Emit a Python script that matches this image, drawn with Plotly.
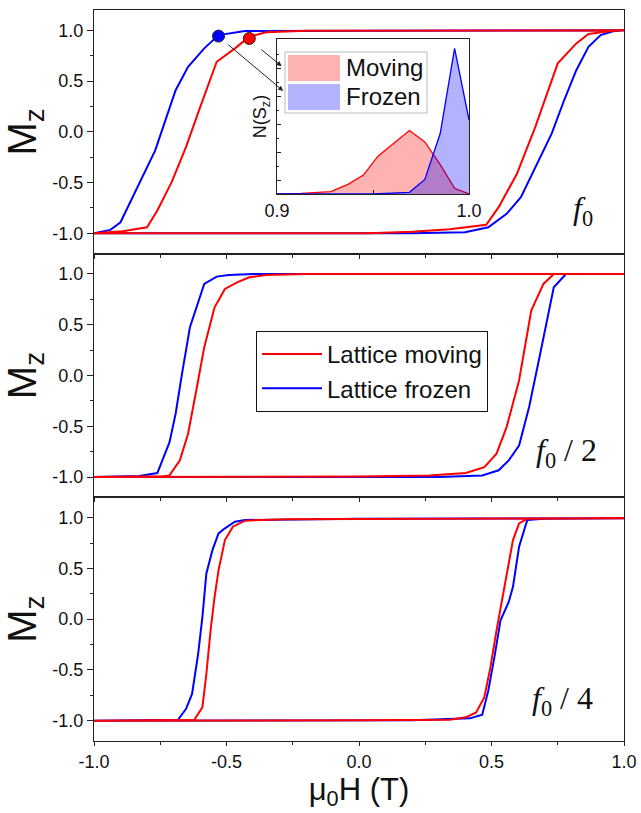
import plotly.graph_objects as go

# ---------------- data ----------------
# panel 1 (f0)
p1_red_up_H = [-1.0, -0.892, -0.80, -0.761, -0.707, -0.653, -0.599, -0.537, -0.468, -0.414, -0.352, -0.198, 1.0]
p1_red_up_M = [-1.0, -0.980, -0.940, -0.775, -0.496, -0.150, 0.245, 0.690, 0.822, 0.937, 0.980, 0.995, 1.0]
p1_red_lo_H = [-1.0, 0.033, 0.20, 0.342, 0.480, 0.527, 0.596, 0.665, 0.750, 0.820, 0.866, 0.943, 1.0]
p1_red_lo_M = [-1.0, -1.0, -0.985, -0.960, -0.915, -0.742, -0.413, 0.047, 0.674, 0.871, 0.963, 0.990, 1.0]
p1_blue_up_H = [-1.0, -0.938, -0.900, -0.861, -0.823, -0.769, -0.692, -0.645, -0.584, -0.530, -0.43, -0.30, 1.0]
p1_blue_up_M = [-1.0, -0.966, -0.891, -0.693, -0.479, -0.183, 0.410, 0.640, 0.822, 0.953, 0.993, 1.0, 1.0]
p1_blue_lo_H = [-1.0, 0.20, 0.40, 0.488, 0.557, 0.611, 0.665, 0.727, 0.774, 0.820, 0.866, 0.912, 0.958, 1.0]
p1_blue_lo_M = [-1.0, -1.0, -0.99, -0.94, -0.808, -0.644, -0.348, -0.018, 0.311, 0.607, 0.838, 0.953, 0.990, 1.0]

# panel 2 (f0/2)
p2_red_up_H = [-1.0, -0.738, -0.715, -0.676, -0.645, -0.614, -0.584, -0.545, -0.506, -0.460, -0.414, -0.352, -0.198, 1.0]
p2_red_up_M = [-1.0, -0.993, -0.984, -0.836, -0.574, -0.148, 0.279, 0.672, 0.852, 0.918, 0.967, 0.990, 1.0, 1.0]
p2_red_lo_H = [-1.0, 0.0, 0.265, 0.403, 0.473, 0.519, 0.557, 0.604, 0.650, 0.696, 0.735, 1.0]
p2_red_lo_M = [-1.0, -0.995, -0.984, -0.961, -0.902, -0.770, -0.508, -0.049, 0.639, 0.902, 1.0, 1.0]
p2_blue_up_H = [-1.0, -0.830, -0.761, -0.715, -0.692, -0.668, -0.638, -0.614, -0.584, -0.537, -0.491, -0.398, 1.0]
p2_blue_up_M = [-1.0, -0.990, -0.961, -0.656, -0.377, 0.016, 0.475, 0.672, 0.902, 0.974, 0.990, 1.0, 1.0]
p2_blue_lo_H = [-1.0, 0.30, 0.465, 0.527, 0.565, 0.604, 0.642, 0.681, 0.719, 0.735, 0.781, 1.0]
p2_blue_lo_M = [-1.0, -1.0, -0.984, -0.934, -0.836, -0.689, -0.311, 0.180, 0.672, 0.869, 1.0, 1.0]

# panel 3 (f0/4)
p3_red_up_H = [-1.0, -0.622, -0.591, -0.576, -0.560, -0.545, -0.530, -0.506, -0.476, -0.430, -0.275, 1.0]
p3_red_up_M = [-1.0, -0.993, -0.868, -0.539, -0.110, 0.219, 0.483, 0.779, 0.911, 0.970, 0.984, 0.995]
p3_red_lo_H = [-1.0, 0.0, 0.342, 0.403, 0.442, 0.473, 0.496, 0.519, 0.550, 0.581, 0.604, 0.635, 1.0]
p3_red_lo_M = [-1.0, -0.995, -0.990, -0.967, -0.918, -0.769, -0.473, -0.110, 0.351, 0.779, 0.944, 0.990, 0.995]
p3_blue_up_H = [-1.0, -0.684, -0.653, -0.630, -0.607, -0.591, -0.576, -0.553, -0.530, -0.506, -0.468, -0.430, 0.0, 1.0]
p3_blue_up_M = [-1.0, -0.993, -0.885, -0.736, -0.341, 0.021, 0.450, 0.680, 0.845, 0.895, 0.960, 0.977, 0.988, 0.995]
p3_blue_lo_H = [-1.0, 0.20, 0.419, 0.465, 0.488, 0.511, 0.534, 0.565, 0.581, 0.604, 0.635, 0.696, 1.0]
p3_blue_lo_M = [-1.0, -0.995, -0.977, -0.941, -0.703, -0.374, -0.012, 0.170, 0.318, 0.713, 0.977, 0.990, 0.995]

# markers on panel 1
marker_H = [-0.530, -0.414]
marker_M = [0.943, 0.92]
marker_colors = ["#0000FF", "#FF0000"]

# inset N(Sz)
moving_S = [0.9, 0.9125, 0.928, 0.937, 0.945, 0.9526, 0.9605, 0.969, 0.977, 0.985, 0.9925, 1.0]
moving_N = [0.0, 0.004, 0.015, 0.062, 0.122, 0.244, 0.325, 0.41, 0.336, 0.19, 0.037, 0.0]
frozen_S = [0.9, 0.95, 0.969, 0.977, 0.985, 0.9925, 1.0]
frozen_N = [0.0, 0.0, 0.011, 0.094, 0.39, 0.94, 0.478]

series_names = ["Lattice moving", "Lattice frozen"]
panel_labels = ["<i>f</i><sub>0</sub>", "<i>f</i><sub>0</sub> / 2", "<i>f</i><sub>0</sub> / 4"]
x_ticks = [-1.0, -0.5, 0.0, 0.5, 1.0]
y_ticks = [-1.0, -0.5, 0.0, 0.5, 1.0]

RED = "#FF0000"
BLUE = "#0000FF"
W, H = 641, 813
L, R, T, B = 94, 17, 10, 72
PW, PH = W - L - R, H - T - B


def px2paper(x, y):
    return (x - L) / PW, (H - B - y) / PH


def loop(up_H, up_M, lo_H, lo_M):
    return list(reversed(up_H)) + lo_H, list(reversed(up_M)) + lo_M


panels = [
    (p1_red_up_H, p1_red_up_M, p1_red_lo_H, p1_red_lo_M, p1_blue_up_H, p1_blue_up_M, p1_blue_lo_H, p1_blue_lo_M),
    (p2_red_up_H, p2_red_up_M, p2_red_lo_H, p2_red_lo_M, p2_blue_up_H, p2_blue_up_M, p2_blue_lo_H, p2_blue_lo_M),
    (p3_red_up_H, p3_red_up_M, p3_red_lo_H, p3_red_lo_M, p3_blue_up_H, p3_blue_up_M, p3_blue_lo_H, p3_blue_lo_M),
]

fig = go.Figure()
FONT = "Liberation Sans, Arial, sans-serif"
SERIF = "Liberation Serif, Times New Roman, serif"

for i, p in enumerate(panels):
    xa = "x" if i == 0 else f"x{i+1}"
    ya = "y" if i == 0 else f"y{i+1}"
    rx, ry = loop(p[0], p[1], p[2], p[3])
    bx, by = loop(p[4], p[5], p[6], p[7])
    fig.add_trace(go.Scatter(x=bx, y=by, mode="lines", line=dict(color=BLUE, width=2),
                             xaxis=xa, yaxis=ya, name=series_names[1], showlegend=(i == 1),
                             legendrank=2))
    fig.add_trace(go.Scatter(x=rx, y=ry, mode="lines", line=dict(color=RED, width=2),
                             xaxis=xa, yaxis=ya, name=series_names[0], showlegend=(i == 1),
                             legendrank=1))

fig.add_trace(go.Scatter(x=marker_H, y=marker_M, mode="markers",
                         marker=dict(color=marker_colors, size=12, line=dict(color="#222", width=1)),
                         xaxis="x", yaxis="y", showlegend=False))

# inset
fig.add_trace(go.Scatter(x=moving_S, y=moving_N, mode="lines", fill="tozeroy",
                         fillcolor="rgba(255,0,0,0.30)", line=dict(color=RED, width=1.3),
                         xaxis="x4", yaxis="y4", showlegend=False, name="Moving"))
fig.add_trace(go.Scatter(x=frozen_S, y=frozen_N, mode="lines", fill="tozeroy",
                         fillcolor="rgba(0,0,255,0.30)", line=dict(color=BLUE, width=1.3),
                         xaxis="x4", yaxis="y4", showlegend=False, name="Frozen"))

axis_common = dict(showline=True, linecolor="#222", linewidth=1.3, mirror=True, automargin=False,
                   ticks="outside", tickcolor="#222", showgrid=False, zeroline=False)
tickfont = dict(family=FONT, size=18, color="#111")

doms = [[2/3, 1.0], [1/3, 2/3], [0.0, 1/3]]
layout = dict(width=W, height=H, margin=dict(l=L, r=R, t=T, b=B, autoexpand=False),
              plot_bgcolor="white", paper_bgcolor="white", font=dict(family=FONT, color="#111"))
for i in range(3):
    xk = "xaxis" if i == 0 else f"xaxis{i+1}"
    yk = "yaxis" if i == 0 else f"yaxis{i+1}"
    ya = "y" if i == 0 else f"y{i+1}"
    xa = "x" if i == 0 else f"x{i+1}"
    layout[xk] = dict(axis_common, range=[-1, 1], anchor=ya, domain=[0, 1],
                      tickvals=x_ticks, ticktext=[f"{v:.1f}" for v in x_ticks], ticklen=4,
                      showticklabels=(i == 2), tickfont=tickfont,
                      minor=dict(dtick=0.25, tick0=0, ticks="outside", ticklen=3, tickcolor="#222"))
    layout[yk] = dict(axis_common, range=[-1.2, 1.2], anchor=xa, domain=doms[i],
                      tickvals=y_ticks, ticktext=[f"{v:.1f}" for v in y_ticks], ticklen=6,
                      tickfont=tickfont,
                      minor=dict(dtick=0.25, tick0=0, ticks="outside", ticklen=3, tickcolor="#222"),
                      title=dict(text="M<sub>z</sub>", font=dict(family=FONT, size=40, color="#111"),
                                 standoff=6))
layout["xaxis3"]["title"] = dict(text="μ<sub>0</sub>H (T)", font=dict(family=FONT, size=31, color="#111"),
                                 standoff=6)

ix0, iy0 = px2paper(277, 194)
ix1, iy1 = px2paper(469, 39)
layout["xaxis4"] = dict(showline=True, linecolor="#222", linewidth=1.2, mirror=True, ticks="inside",
                        automargin=False,
                        ticklen=4, tickcolor="#222", showgrid=False, zeroline=False,
                        range=[0.9, 1.0], tickvals=[0.9, 1.0], ticktext=["0.9", "1.0"],
                        tickfont=dict(family=FONT, size=18, color="#111"),
                        minor=dict(tickvals=[0.95], ticks="inside", ticklen=4, tickcolor="#222"),
                        domain=[ix0, ix1], anchor="y4")
layout["yaxis4"] = dict(showline=True, linecolor="#222", linewidth=1.2, mirror=True, ticks="inside",
                        automargin=False,
                        ticklen=4, tickcolor="#222", showgrid=False, zeroline=False,
                        range=[0, 1.0], tick0=14 / 155, dtick=28 / 155, showticklabels=False,
                        minor=dict(dtick=14 / 155, tick0=0, ticks="inside", ticklen=2, tickcolor="#222"),
                        domain=[iy0, iy1], anchor="x4",
                        title=dict(text="N(S<sub>z</sub>)", font=dict(family=FONT, size=18, color="#111"),
                                   standoff=4))

lx, ly = px2paper(256, 331)
layout["legend"] = dict(x=lx, y=ly, xanchor="left", yanchor="top", bgcolor="white",
                        bordercolor="#111", borderwidth=1, font=dict(family=FONT, size=24, color="#111"),
                        itemwidth=60, tracegroupgap=0)

fig.update_layout(**layout)

# panel labels
label_pos = [(583, 210), (566, 452), (562, 700)]
for txt, (x, y) in zip(panel_labels, label_pos):
    px_, py_ = px2paper(x, y)
    fig.add_annotation(x=px_, y=py_, xref="paper", yref="paper", text=txt, showarrow=False,
                       xanchor="center", yanchor="middle",
                       font=dict(family=SERIF, size=32, color="#111"))

# arrows from markers to the inset legend
fig.add_annotation(x=-0.286, y=0.403, ax=-0.499, ay=0.871, xref="x", yref="y", axref="x", ayref="y",
                   text="", showarrow=True, arrowhead=2, arrowsize=1, arrowwidth=1, arrowcolor="#222")
fig.add_annotation(x=-0.292, y=0.647, ax=-0.374, ay=0.822, xref="x", yref="y", axref="x", ayref="y",
                   text="", showarrow=True, arrowhead=2, arrowsize=1, arrowwidth=1, arrowcolor="#222")

# inset legend (drawn box + swatches)
bx0, by0 = px2paper(285, 113)
bx1, by1 = px2paper(427, 52)
fig.add_shape(type="rect", xref="paper", yref="paper", x0=bx0, y0=by0, x1=bx1, y1=by1,
              line=dict(color="#bbb", width=1), fillcolor="white", layer="above")
for (c, name, top) in [("rgba(255,0,0,0.30)", "Moving", 55), ("rgba(0,0,255,0.30)", "Frozen", 84)]:
    sx0, sy0 = px2paper(288, top + 26)
    sx1, sy1 = px2paper(340, top)
    fig.add_shape(type="rect", xref="paper", yref="paper", x0=sx0, y0=sy0, x1=sx1, y1=sy1,
                  line=dict(width=0), fillcolor=c, layer="above")
    tx, ty = px2paper(344, top + 13)
    fig.add_annotation(x=tx, y=ty, xref="paper", yref="paper", xanchor="left", yanchor="middle",
                       text=name, showarrow=False, font=dict(family=FONT, size=24, color="#111"))

fig.write_html("out.html", config={"displayModeBar": False},
               post_script="document.body.style.margin='0';document.body.style.overflow='hidden';")
